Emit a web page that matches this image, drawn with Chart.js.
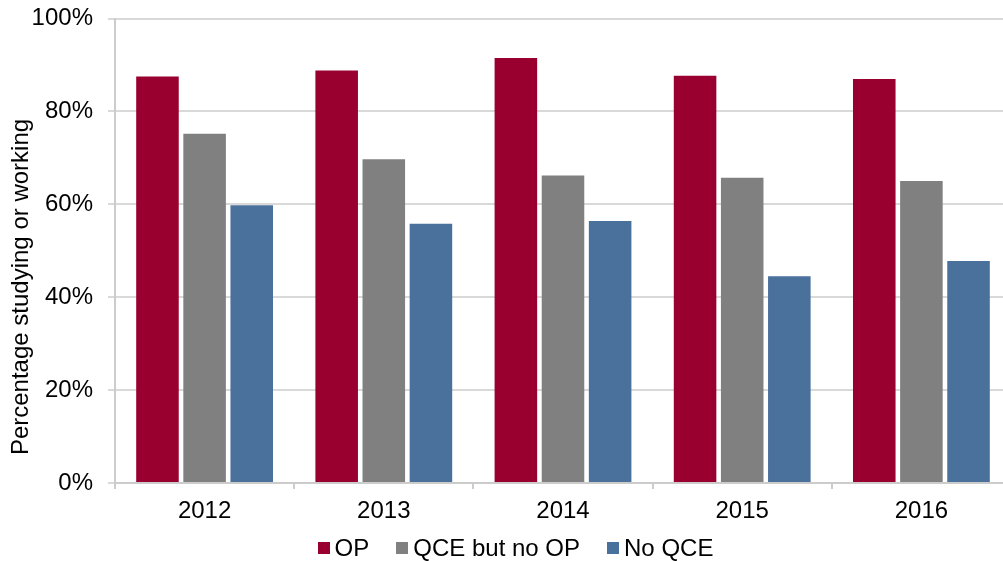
<!DOCTYPE html>
<html>
<head>
<meta charset="utf-8">
<script src="https://cdn.jsdelivr.net/npm/chart.js@4"></script>
<style>
  html, body { margin: 0; padding: 0; background: #fff; overflow: hidden; }
  #wrap { position: relative; width: 1030px; height: 561px; }
  #legend {
    position: absolute; left: 0; width: 1031px; top: 533px;
    display: flex; justify-content: center; gap: 27px;
    font-family: Arial, "Liberation Sans", sans-serif; font-size: 24px; color: #000;
    line-height: 30px;
  }
  #legend span.item { display: flex; align-items: center; }
  #legend span.box { display: inline-block; width: 12px; height: 12px; margin-right: 5px; }
</style>
</head>
<body>
<div id="wrap">
  <canvas id="chart" width="1030" height="561"></canvas>
  <div id="legend"></div>
</div>
<script>
// Chart values
const years = ['2012', '2013', '2014', '2015', '2016'];
const opValues = [87.5, 88.8, 91.5, 87.7, 87.0];
const qceNoOpValues = [75.2, 69.7, 66.2, 65.7, 65.0];
const noQceValues = [59.8, 55.8, 56.4, 44.5, 47.8];
const yTicks = [0, 20, 40, 60, 80, 100];
const yTitle = 'Percentage studying or working';

const font = 'Arial, "Liberation Sans", sans-serif';
const gridGray = '#d9d9d9';

// y axis title sits a bit below the middle of the axis in the original
const yTitlePlugin = {
  id: 'yTitle',
  afterDraw(chart) {
    const c = chart.ctx;
    c.save();
    c.translate(21, 287);
    c.rotate(-Math.PI / 2);
    c.font = '24px ' + font;
    c.fillStyle = '#000';
    c.textAlign = 'center';
    c.textBaseline = 'middle';
    c.fillText(yTitle, 0, 0);
    c.restore();
  }
};

const ctx = document.getElementById('chart').getContext('2d');

const chart = new Chart(ctx, {
  type: 'bar',
  data: {
    labels: years,
    datasets: [
      { label: 'OP', data: opValues, backgroundColor: '#990030' },
      { label: 'QCE but no OP', data: qceNoOpValues, backgroundColor: '#808080' },
      { label: 'No QCE', data: noQceValues, backgroundColor: '#4a709c' }
    ]
  },
  plugins: [yTitlePlugin],
  options: {
    responsive: false,
    animation: false,
    categoryPercentage: 0.789,
    barPercentage: 0.903,
    layout: {
      padding: { left: 19, right: 19, top: 18.5, bottom: 38 }
    },
    plugins: {
      legend: { display: false },
      tooltip: { enabled: false }
    },
    scales: {
      x: {
        grid: {
          drawOnChartArea: false,
          drawTicks: true,
          tickLength: 6,
          color: '#cccccc',
          lineWidth: 2
        },
        border: { color: '#cccccc', width: 2 },
        ticks: {
          color: '#000',
          font: { family: font, size: 24 },
          padding: 8,
          maxRotation: 0
        },
        afterFit: function(scale) {
          scale.height = 40;
          scale.paddingLeft = 0;
          scale.paddingRight = 0;
        }
      },
      y: {
        min: 0,
        max: 100,
        afterBuildTicks: function(scale) {
          scale.ticks = yTicks.map(v => ({ value: v }));
        },
        grid: {
          color: gridGray,
          lineWidth: 2,
          tickLength: 7
        },
        border: { color: '#cccccc', width: 2 },
        ticks: {
          color: '#000',
          font: { family: font, size: 24 },
          padding: 15,
          callback: function(value) { return value + '%'; }
        },
        afterFit: function(scale) {
          scale.width = 96;
          // keep the plot area where the original has it
          scale.paddingTop = 0;
          scale.paddingBottom = 0;
        }
      }
    }
  }
});

// legend built from the datasets
const legendEl = document.getElementById('legend');
chart.data.datasets.forEach(ds => {
  const item = document.createElement('span');
  item.className = 'item';
  const box = document.createElement('span');
  box.className = 'box';
  box.style.background = ds.backgroundColor;
  item.appendChild(box);
  item.appendChild(document.createTextNode(ds.label));
  legendEl.appendChild(item);
});
</script>
</body>
</html>
